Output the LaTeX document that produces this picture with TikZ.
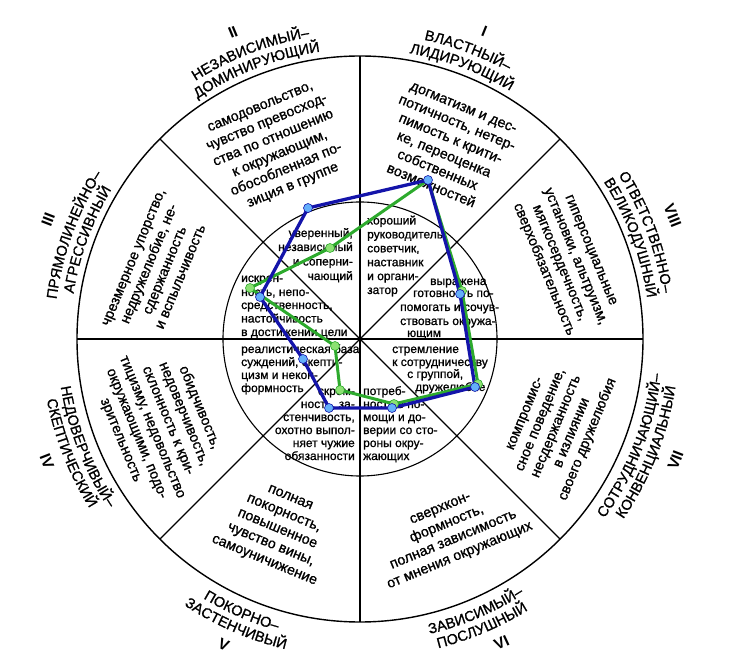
\documentclass[tikz,border=0pt]{standalone}
\usepackage{fontspec}
\setmainfont{Liberation Sans}[UprightFeatures={FakeBold=1}]
\usetikzlibrary{decorations.text}
\definecolor{polyblue}{RGB}{20,20,170}
\definecolor{dotblue}{RGB}{100,175,250}
\definecolor{polygreen}{RGB}{45,170,45}
\definecolor{dotgreen}{RGB}{140,225,115}
\newcommand\LabFont{\fontsize{14.5}{16}\selectfont}
\tikzset{
 ringtxt/.style={font=\fontsize{14.3}{17}\selectfont, align=center, inner sep=0pt},
 intxt/.style={font=\fontsize{12}{13.5}\selectfont, inner sep=0pt},
 numtxt/.style={font=\bfseries\fontsize{15.5}{15.5}\selectfont, inner sep=0pt},
 bdot/.style={circle, draw=polyblue, fill=dotblue, line width=0.6pt, inner sep=0pt, minimum size=9pt},
 gdot/.style={circle, draw=polygreen, fill=dotgreen, line width=0.6pt, inner sep=0pt, minimum size=9pt},
 arclab/.style={decorate, decoration={text along path, text align=center, text={|\LabFont|#1}}},
}
\newcommand\UpLab[3]{\path[arclab={#3}] ({#1+45}:#2) arc[start angle={#1+45}, end angle={#1-45}, radius=#2];}
\newcommand\LoLab[3]{\path[arclab={#3}] ({#1-45}:#2) arc[start angle={#1-45}, end angle={#1+45}, radius=#2];}
\newcommand\Ln[5]{\node[intxt, anchor=#2] (#1) at ({#3-360},{339-#4}) {#5};}
\begin{document}
\begin{tikzpicture}[x=1pt,y=1pt]
\useasboundingbox (-360,-322) rectangle (373,339);
% circles and spokes
\draw[line width=1.4pt] (0,0) circle[radius=283];
\draw[line width=1.1pt] (0,0) circle[radius=137];
\foreach \a in {0,45,90,135} \draw[line width=1.1pt] (\a:283) -- ({\a+180}:283);
% outer ring texts
\node[ringtxt, rotate=22.5] (t2) at (113.4:209) {самодовольство,\\чувство превосход-\\ства по отношению\\к окружающим,\\обособленная по-\\зиция в группе};
\node[ringtxt, rotate=-22.5] (t1) at (65.6:211) {догматизм и дес-\\потичность, нетер-\\пимость к крити-\\ке, переоценка\\собственных\\возможностей};
\node[ringtxt, rotate=67.5] (t3) at (160.5:215) {чрезмерное упорство,\\недружелюбие, не-\\сдержанность\\и вспыльчивость};
\node[ringtxt, rotate=-67.5] (t8) at (20.9:221) {гиперсоциальные\\установки, альтруизм,\\мягкосердечность,\\сверхобязательность};
\node[ringtxt, rotate=67.5] (t7) at (-24:216) {компромис-\\сное поведение,\\несдержанность\\в излиянии\\своего дружелюбия};
\node[ringtxt, rotate=22.5] (t6) at (-65:214) {сверхкон-\\формность,\\полная зависимость\\от мнения окружающих};
\node[ringtxt, rotate=-22.5] (t5) at (-113.5:208) {полная\\покорность,\\повышенное\\чувство вины,\\самоуничижение};
\node[ringtxt, rotate=-67.5] (t4) at (-157:217) {обидчивость,\\недоверчивость,\\склонность к кри-\\тицизму, недовольство\\окружающими, подо-\\зрительность};
% curved sector names
\UpLab{69.5}{306}{ВЛАСТНЫЙ–}
\UpLab{69.5}{290}{ЛИДИРУЮЩИЙ}
\UpLab{111}{306}{НЕЗАВИСИМЫЙ–}
\UpLab{111}{290}{ДОМИНИРУЮЩИЙ}
\UpLab{160}{306}{ПРЯМОЛИНЕЙНО–}
\UpLab{160}{290}{АГРЕССИВНЫЙ}
\UpLab{20.5}{306}{ОТВЕТСТВЕННО–}
\UpLab{20.5}{290}{ВЕЛИКОДУШНЫЙ}
\LoLab{-158.5}{303}{НЕДОВЕРЧИВЫЙ–}
\LoLab{-158.5}{319}{СКЕПТИЧЕСКИЙ}
\LoLab{-113.5}{303}{ПОКОРНО–}
\LoLab{-113.5}{319}{ЗАСТЕНЧИВЫЙ}
\LoLab{-67}{303}{ЗАВИСИМЫЙ–}
\LoLab{-67}{319}{ПОСЛУШНЫЙ}
\LoLab{-21.5}{303}{СОТРУДНИЧАЮЩИЙ–}
\LoLab{-21.5}{319}{КОНВЕНЦИАЛЬНЫЙ}
% numerals
\node[numtxt, rotate=-22] (n1) at (68:332) {I};
\node[numtxt, rotate=22.5] (n2) at (112.5:332) {II};
\node[numtxt, rotate=69] (n3) at (159:334) {III};
\node[numtxt, rotate=-68.5] (n8) at (21.5:336) {VIII};
\node[numtxt, rotate=-68.7] (n4) at (-158.7:336) {IV};
\node[numtxt, rotate=69] (n7) at (-21:338) {VII};
\node[numtxt, rotate=-24] (n5) at (-114:335) {V};
\node[numtxt, rotate=25] (n6) at (-65:335) {VI};
% inner texts
\Ln{i1a}{base west}{367}{224.5}{хороший}
\Ln{i1b}{base west}{367}{238.4}{руководитель,}
\Ln{i1c}{base west}{367}{252.3}{советчик,}
\Ln{i1d}{base west}{367}{266.2}{наставник}
\Ln{i1e}{base west}{367}{280.1}{и органи-}
\Ln{i1f}{base west}{367}{294}{затор}
\Ln{i2a}{base east}{353}{237}{уверенный,}
\Ln{i2b}{base east}{353}{251}{независимый}
\Ln{i2c}{base east}{353}{265.5}{и соперни-}
\Ln{i2d}{base east}{353}{280}{чающий}
\Ln{i3a}{base west}{241}{282}{искрен-}
\Ln{i3b}{base west}{241}{296}{ность, непо-}
\Ln{i3c}{base west}{241}{309}{средственность,}
\Ln{i3d}{base west}{241}{322.5}{настойчивость}
\Ln{i3e}{base west}{241}{336}{в достижении цели}
\Ln{i4a}{base west}{241}{353}{реалистическая база}
\Ln{i4b}{base west}{241}{366}{суждений, скепти-}
\Ln{i4c}{base west}{241}{379}{цизм и некон-}
\Ln{i4d}{base west}{241}{392}{формность}
\Ln{i5a}{base east}{355}{395}{скром-}
\Ln{i5b}{base east}{355}{408}{ность, за-}
\Ln{i5c}{base east}{355}{421}{стенчивость,}
\Ln{i5d}{base east}{355}{434}{охотно выпол-}
\Ln{i5e}{base east}{355}{447}{няет чужие}
\Ln{i5f}{base east}{355}{460}{обязанности}
\Ln{i6a}{base west}{363}{395}{потреб-}
\Ln{i6b}{base west}{363}{408}{ность в по-}
\Ln{i6c}{base west}{363}{421}{мощи и до-}
\Ln{i6d}{base west}{363}{434}{верии со сто-}
\Ln{i6e}{base west}{363}{447}{роны окру-}
\Ln{i6f}{base west}{363}{460}{жающих}
\Ln{i7a}{base west}{392}{353}{стремление}
\Ln{i7b}{base west}{392}{366}{к сотрудничеству}
\Ln{i7c}{base west}{407}{378}{с группой,}
\Ln{i7d}{base west}{415}{391}{дружелюбие}
\Ln{i8a}{base west}{430}{285}{выражена}
\Ln{i8b}{base west}{413}{297}{готовность по-}
\Ln{i8c}{base west}{400}{311}{помогать и сочув-}
\Ln{i8d}{base west}{400}{325}{ствовать окружа-}
\Ln{i8e}{base west}{407}{337}{ющим}
% profile points
\coordinate (b1) at (-52,131);
\coordinate (b2) at (68,159);
\coordinate (b3) at (100,45);
\coordinate (b4) at (115,-48);
\coordinate (b5) at (32,-69);
\coordinate (b6) at (-31,-69);
\coordinate (b7) at (-57,-20);
\coordinate (b8) at (-100,42);
\coordinate (g2) at (102,48);
\coordinate (g3) at (118,-45);
\coordinate (g4) at (34,-65);
\coordinate (g5) at (-20,-51);
\coordinate (g6) at (-25,-7);
\coordinate (g7) at (-110,51);
\coordinate (g8) at (-30,91);
\draw[polygreen, line width=3pt, line join=round] (b2) -- (g2) -- (g3) -- (g4) -- (g5) -- (g6) -- (g7) -- (g8) -- cycle;
\draw[polyblue, line width=3.3pt, line join=round] (b1) -- (b2) -- (b3) -- (b4) -- (b5) -- (b6) -- (b7) -- (b8) -- cycle;
\foreach \p in {g2,g3,g4,g5,g6,g7,g8} \node[gdot] (d\p) at (\p) {};
\foreach \p in {b1,b2,b3,b4,b5,b6,b7,b8} \node[bdot] (d\p) at (\p) {};
\end{tikzpicture}
\end{document}
